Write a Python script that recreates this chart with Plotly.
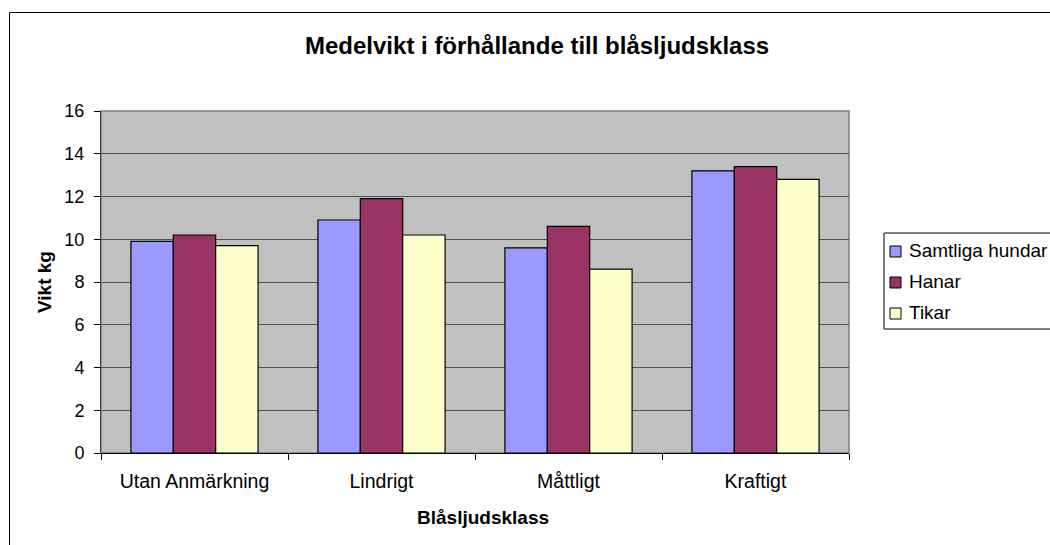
import plotly.graph_objects as go

categories = ["Utan Anmärkning", "Lindrigt", "Måttligt", "Kraftigt"]
samtliga = [9.9, 10.9, 9.6, 13.2]
hanar = [10.2, 11.9, 10.6, 13.4]
tikar = [9.7, 10.2, 8.6, 12.8]
series_names = ["Samtliga hundar", "Hanar", "Tikar"]
colors = ["#9999FF", "#993366", "#FFFFCC"]
y_ticks = [0, 2, 4, 6, 8, 10, 12, 14, 16]

# page body margin removed by post_script -> figure at (0,0)
OFF = 0
W, H = 1050, 545
# plot area in page pixels: left 101, right 849, top 111, bottom 453
L = 101 - OFF
T = 111 - OFF
R = W - (849 - OFF)
B = H - (453 - OFF)
pw, ph = W - L - R, H - T - B


def px_x(x):
    return (x - OFF - L) / pw


def px_y(y):
    return (H - B - (y - OFF)) / ph


FONT = "Liberation Sans, Arial, sans-serif"

fig = go.Figure()
for name, vals, col in zip(series_names, [samtliga, hanar, tikar], colors):
    fig.add_trace(go.Bar(
        x=categories, y=vals, name=name,
        marker=dict(color=col, line=dict(color="#000000", width=1.2)),
    ))

# custom legend (Excel style: small square, text close to it)
legend_shapes = [
    dict(type="rect", xref="paper", yref="paper",
         x0=px_x(884), y0=px_y(329), x1=px_x(1080), y1=px_y(233),
         line=dict(color="#000000", width=1), fillcolor="white", layer="above"),
]
legend_annots = []
row_centers = [251.5, 282.5, 313.5]
for name, col, yc in zip(series_names, colors, row_centers):
    legend_shapes.append(dict(
        type="rect", xref="paper", yref="paper",
        x0=px_x(890), x1=px_x(901), y0=px_y(yc + 5.5), y1=px_y(yc - 5.5),
        line=dict(color="#000000", width=1), fillcolor=col, layer="above"))
    legend_annots.append(dict(
        text=name, xref="paper", yref="paper", x=px_x(907), y=px_y(yc - 1),
        xanchor="left", yanchor="middle", showarrow=False,
        font=dict(size=19, family=FONT, color="#000000")))

fig.update_layout(
    width=W, height=H,
    margin=dict(l=L, r=R, t=T, b=B, autoexpand=False),
    paper_bgcolor="white",
    plot_bgcolor="#C0C0C0",
    barmode="group", bargap=0.32, bargroupgap=0,
    font=dict(family=FONT, color="#000000"),
    showlegend=False,
    xaxis=dict(
        showgrid=False, ticks="outside", tickson="boundaries", ticklen=6,
        tickcolor="#000000", showline=True, linecolor="#000000", linewidth=1,
        tickfont=dict(size=19.5, family=FONT), ticklabelstandoff=11,
    ),
    yaxis=dict(
        range=[0, 16], tickvals=y_ticks, showgrid=True, gridcolor="#505050",
        gridwidth=1, ticks="outside", ticklen=6, tickcolor="#000000",
        showline=True, linecolor="#404040", linewidth=1, zeroline=False,
        tickfont=dict(size=18, family=FONT), ticklabelstandoff=6,
    ),
    annotations=[
        dict(text="<b>Medelvikt i förhållande till blåsljudsklass</b>",
             xref="paper", yref="paper", x=px_x(537), y=px_y(46),
             xanchor="center", yanchor="middle", showarrow=False,
             font=dict(size=24, family=FONT)),
        dict(text="<b>Blåsljudsklass</b>",
             xref="paper", yref="paper", x=px_x(483), y=px_y(517),
             xanchor="center", yanchor="middle", showarrow=False,
             font=dict(size=19, family=FONT)),
        dict(text="<b>Vikt kg</b>", textangle=-90,
             xref="paper", yref="paper", x=px_x(44), y=px_y(282),
             xanchor="center", yanchor="middle", showarrow=False,
             font=dict(size=19, family=FONT)),
    ] + legend_annots,
    shapes=[
        dict(type="rect", xref="paper", yref="paper",
             x0=px_x(9.5), y0=px_y(580), x1=px_x(1090), y1=px_y(12.5),
             line=dict(color="#000000", width=1), fillcolor="rgba(0,0,0,0)",
             layer="below"),
        dict(type="rect", xref="paper", yref="paper", x0=0, y0=0, x1=1, y1=1,
             line=dict(color="#808080", width=1.5), fillcolor="rgba(0,0,0,0)",
             layer="below"),
    ] + legend_shapes,
)

fig.write_html(
    "out.html",
    config={"displayModeBar": False},
    post_script="document.body.style.margin='0px';"
                "document.body.style.overflow='hidden';",
)
